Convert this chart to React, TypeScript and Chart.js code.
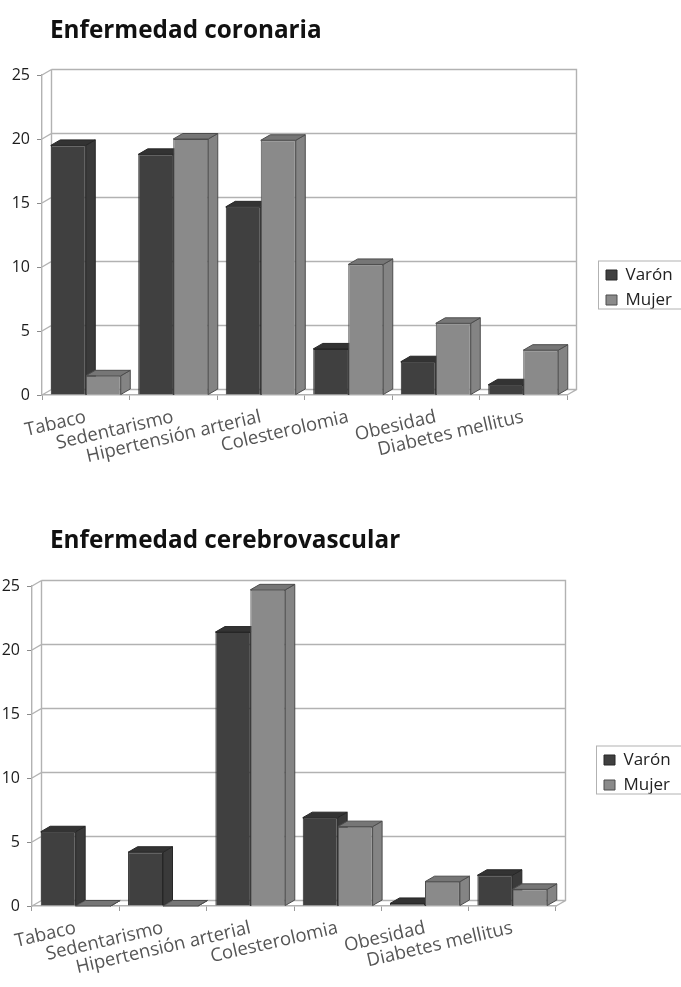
import React, { useEffect, useRef } from "react";
import { Chart, registerables } from "chart.js";

Chart.register(...registerables);

const categories = ["Tabaco", "Sedentarismo", "Hipertensión arterial", "Colesterolomia", "Obesidad", "Diabetes mellitus"];
const coronariaVaron = [19.5, 18.8, 14.7, 3.6, 2.6, 0.8];
const coronariaMujer = [1.5, 20, 19.9, 10.2, 5.6, 3.5];
const cerebroVaron = [5.8, 4.2, 21.4, 6.9, 0.2, 2.4];
const cerebroMujer = [0, 0, 24.7, 6.2, 1.9, 1.3];
const yTicks = [0, 5, 10, 15, 20, 25];

const DX = 9.5;
const DY = 5.5;
const FONT = "'Open Sans', Lato, sans-serif";
const TITLE_SIZE = 24.3;
const faces = [
  { front: "#404040", side: "#3a3a3a", top: "#333333", edge: "#262626" },
  { front: "#8a8a8a", side: "#848484", top: "#767676", edge: "#4c4c4c" },
];

function face(ctx: CanvasRenderingContext2D, pts: number[][], fill: string, stroke: string) {
  ctx.beginPath();
  pts.forEach((p, i) => (i ? ctx.lineTo(p[0], p[1]) : ctx.moveTo(p[0], p[1])));
  ctx.closePath();
  ctx.fillStyle = fill;
  ctx.fill();
  ctx.strokeStyle = stroke;
  ctx.lineWidth = 1;
  ctx.stroke();
}

const wallPlugin = {
  id: "wall3d",
  beforeDatasetsDraw(chart: any) {
    const { ctx, chartArea: a, scales } = chart;
    ctx.save();
    ctx.strokeStyle = "#b2b2b2";
    ctx.lineWidth = 1.4;
    ctx.beginPath();
    ctx.moveTo(a.left + DX, a.top - DY);
    ctx.lineTo(a.right + DX, a.top - DY);
    ctx.lineTo(a.right + DX, a.bottom - DY);
    ctx.lineTo(a.right, a.bottom);
    ctx.moveTo(a.left + DX, a.top - DY);
    ctx.lineTo(a.left + DX, a.bottom - DY);
    ctx.lineTo(a.right + DX, a.bottom - DY);
    yTicks.forEach((v) => {
      const y = scales.y.getPixelForValue(v);
      ctx.moveTo(a.left, y);
      ctx.lineTo(a.left + DX, y - DY);
      if (v > 0 && v < 25) {
        ctx.lineTo(a.right + DX, y - DY);
      }
    });
    ctx.stroke();

    const n = chart.data.labels.length;
    for (let i = 0; i < n; i++) {
      chart.data.datasets.forEach((_: any, d: number) => {
        const bar = chart.getDatasetMeta(d).data[i];
        const l = bar.x - bar.width / 2;
        const r = bar.x + bar.width / 2;
        const c = faces[d];
        face(ctx, [[r, bar.y], [r + DX, bar.y - DY], [r + DX, bar.base - DY], [r, bar.base]], c.side, c.edge);
        face(ctx, [[l, bar.y], [l + DX, bar.y - DY], [r + DX, bar.y - DY], [r, bar.y]], c.top, c.edge);
      });
    }
    ctx.restore();
  },
};

const legendFramePlugin = {
  id: "legendFrame",
  afterLayout(chart: any, _args: any, opts: any) {
    const lg = chart.legend;
    const w = lg.width;
    const h = lg.height;
    lg.left = opts.left;
    lg.right = opts.left + w;
    lg.top = opts.top;
    lg.bottom = opts.top + h;
    if (chart.titleBlock) {
      const tw = chart.titleBlock.right - chart.titleBlock.left;
      chart.titleBlock.left = opts.titleLeft;
      chart.titleBlock.right = opts.titleLeft + tw;
    }
  },
  afterDraw(chart: any, _args: any, opts: any) {
    const { ctx } = chart;
    ctx.save();
    ctx.strokeStyle = "#b2b2b2";
    ctx.lineWidth = 1;
    ctx.strokeRect(opts.left + 0.5, opts.top + 2.5, 90, 48);
    ctx.restore();
  },
};

function makeConfig(
  title: string,
  varon: number[],
  mujer: number[],
  geo: { left: number; right: number; top: number; bottom: number; height: number; titleTop: number; legendLeft: number; legendTop: number; titleLeft: number }
): any {
  return {
    type: "bar",
    data: {
      labels: categories,
      datasets: [
        { label: "Varón", data: varon, backgroundColor: faces[0].front, borderColor: faces[0].edge, borderWidth: 1 },
        { label: "Mujer", data: mujer, backgroundColor: faces[1].front, borderColor: faces[1].edge, borderWidth: 1 },
      ],
    },
    plugins: [wallPlugin, legendFramePlugin],
    options: {
      responsive: false,
      animation: false,
      layout: { padding: { left: 0, right: 681 - geo.right, top: 0, bottom: 0 } },
      datasets: { bar: { categoryPercentage: 0.8, barPercentage: 1 } },
      scales: {
        x: {
          offset: true,
          grid: { drawOnChartArea: false, drawTicks: true, tickLength: 5, color: "#9a9a9a", offset: true },
          border: { display: true, color: "#b2b2b2", width: 1.4 },
          ticks: {
            autoSkip: false,
            minRotation: 13,
            maxRotation: 13,
            padding: 6,
            color: "#555555",
            font: { family: FONT, size: 18.5 },
          },
          afterFit(s: any) {
            s.height = geo.height - geo.bottom;
          },
        },
        y: {
          min: 0,
          max: 25,
          afterBuildTicks(s: any) {
            s.ticks = yTicks.map((value) => ({ value }));
          },
          grid: { drawOnChartArea: false, drawTicks: true, tickLength: 5, color: "#8a8a8a" },
          border: { display: true, color: "#b2b2b2", width: 1.4 },
          ticks: { padding: 7, color: "#1c1c1c", font: { family: FONT, size: 16 } },
          afterFit(s: any) {
            s.width = geo.left;
          },
        },
      },
      plugins: {
        title: {
          display: true,
          text: title,
          align: "start",
          color: "#111111",
          font: { family: FONT, size: TITLE_SIZE, weight: "bold", lineHeight: 1.2 },
          padding: { top: geo.titleTop, bottom: geo.top - geo.titleTop - TITLE_SIZE * 1.2 },
        },
        legend: {
          display: true,
          position: "chartArea",
          align: "start",
          labels: {
            boxWidth: 11,
            boxHeight: 10,
            padding: 8,
            color: "#222222",
            font: { family: FONT, size: 17 },
          },
        },
        legendFrame: { left: geo.legendLeft, top: geo.legendTop, titleLeft: geo.titleLeft },
        tooltip: { enabled: false },
      },
    },
  };
}

function Panel({ top, config, height }: { top: number; config: any; height: number }) {
  const ref = useRef<HTMLCanvasElement>(null);
  useEffect(() => {
    const chart = new Chart(ref.current!, config);
    return () => chart.destroy();
  }, []);
  return (
    <canvas
      ref={ref}
      width={681}
      height={height}
      style={{ position: "absolute", left: 0, top, width: 681, height, display: "block", filter: "blur(0.4px)" }}
    />
  );
}

const cfgTop = makeConfig("Enfermedad coronaria", coronariaVaron, coronariaMujer, {
  left: 42, right: 567, top: 75, bottom: 395, height: 490, titleTop: 16, legendLeft: 598, legendTop: 258.5, titleLeft: 50,
});
const cfgBottom = makeConfig("Enfermedad cerebrovascular", cerebroVaron, cerebroMujer, {
  left: 32, right: 556, top: 89, bottom: 409, height: 490, titleTop: 29, legendLeft: 596, legendTop: 246.5, titleLeft: 50,
});

export default function App() {
  return (
    <div style={{ position: "absolute", left: 0, top: 0, width: 681, height: 987, background: "#fff", overflow: "hidden" }}>
      <Panel top={0} height={490} config={cfgTop} />
      <Panel top={497} height={490} config={cfgBottom} />
    </div>
  );
}
